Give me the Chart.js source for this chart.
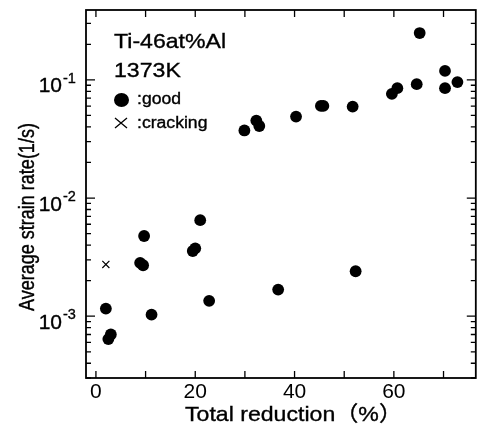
<!DOCTYPE html>
<html><head><meta charset="utf-8">
<script src="https://cdn.jsdelivr.net/npm/chart.js@4.4.0/dist/chart.umd.min.js"></script>
<style>html,body{margin:0;padding:0;background:#fff}#wrap{width:482px;height:428px;position:relative}</style>
</head><body><div id="wrap"><canvas id="c"></canvas></div>
<script>
// ---- data ----
const goodX = [2.0, 2.5, 3.0, 8.9, 9.5, 9.7, 11.2, 19.5, 20.0, 21.0, 22.8, 29.9, 32.3, 32.9, 36.7, 40.3, 45.3, 45.8, 51.7, 52.3, 59.6, 60.7, 64.6, 65.2, 70.3, 70.3, 72.8];
const goodY = [1.16e-3, 6.4e-4, 7.0e-4, 2.83e-3, 2.70e-3, 4.77e-3, 1.03e-3, 3.56e-3, 3.75e-3, 6.5e-3, 1.35e-3, 0.0373, 0.0452, 0.0407, 1.68e-3, 0.0489, 0.0602, 0.0602, 0.0594, 2.40e-3, 0.0761, 0.0851, 0.0920, 0.249, 0.119, 0.0851, 0.0957];
const crackX = [2.0];
const crackY = [2.74e-3];
const xTickLabels = [0, 20, 40, 60];
const xTickMarks = [0, 10, 20, 30, 40, 50, 60, 70];
const yDecades = [-3, -2, -1];
const yMinorMult = [2, 3, 4, 5, 6, 7, 8, 9];
const xTitle = 'Total reduction（%）';
const yTitle = 'Average strain rate(1/s)';
const noteLines = ['Ti-46at%Al', '1373K'];
const legendLabels = [':good', ':cracking'];

const X_MIN = -2, X_MAX = 76.5, Y_MIN = 3e-4, Y_MAX = 0.39;
const FONT = '"Liberation Sans", Arial, "Noto Sans CJK JP", sans-serif';

const goodData = goodX.map((v, i) => ({x: v, y: goodY[i]}));
const crackData = crackX.map((v, i) => ({x: v, y: crackY[i]}));

function txt(ctx, s, x, yb, size, sx, align) {
  ctx.save();
  ctx.translate(x, yb);
  ctx.scale(sx, 1);
  ctx.font = size + 'px ' + FONT;
  ctx.textAlign = align || 'left';
  ctx.textBaseline = 'alphabetic';
  ctx.lineWidth = 0.35;
  ctx.fillText(s, 0, 0);
  ctx.strokeText(s, 0, 0);
  ctx.restore();
}

const decor = {
  id: 'decor',
  afterDraw(chart) {
    const ctx = chart.ctx, a = chart.chartArea, xs = chart.scales.x, ys = chart.scales.y;
    ctx.save();
    ctx.strokeStyle = '#000'; ctx.fillStyle = '#000';
    // frame
    ctx.lineWidth = 1.8;
    ctx.strokeRect(a.left, a.top, a.right - a.left, a.bottom - a.top);
    // tick marks (inward)
    ctx.lineWidth = 1.3;
    ctx.beginPath();
    xTickMarks.forEach(v => {
      const px = xs.getPixelForValue(v);
      ctx.moveTo(px, a.bottom); ctx.lineTo(px, a.bottom - 7);
      ctx.moveTo(px, a.top); ctx.lineTo(px, a.top + 7);
    });
    const yMarks = [];
    for (let e = -4; e <= 0; e++) {
      yMarks.push({v: Math.pow(10, e), len: 9});
      yMinorMult.forEach(m => yMarks.push({v: m * Math.pow(10, e), len: 5}));
    }
    yMarks.forEach(t => {
      if (t.v < Y_MIN * 0.999 || t.v > Y_MAX) return;
      const py = ys.getPixelForValue(t.v);
      ctx.moveTo(a.left, py); ctx.lineTo(a.left + t.len, py);
      ctx.moveTo(a.right, py); ctx.lineTo(a.right - t.len, py);
    });
    ctx.stroke();
    // y tick labels 10^e
    yDecades.forEach(e => {
      const py = ys.getPixelForValue(Math.pow(10, e));
      txt(ctx, '10', 62, py + 12.5, 21, 1, 'right');
      txt(ctx, '-' + Math.abs(e), 63, py + 3, 14.5, 1, 'left');
    });
    // axis titles
    txt(ctx, xTitle, 185, 421, 21, 1.1, 'left');
    ctx.save();
    ctx.translate(28, 217);
    ctx.rotate(-Math.PI / 2);
    ctx.scale(1, 1.2);
    ctx.font = '18px ' + FONT;
    ctx.textAlign = 'center'; ctx.textBaseline = 'middle';
    ctx.lineWidth = 0.35;
    ctx.fillText(yTitle, 0, 0);
    ctx.strokeText(yTitle, 0, 0);
    ctx.restore();
    // annotation
    txt(ctx, noteLines[0], 114, 48, 21, 1.1, 'left');
    txt(ctx, noteLines[1], 114, 77, 21, 1.1, 'left');
    // legend
    ctx.beginPath();
    ctx.ellipse(121.5, 100, 7.5, 7, 0, 0, Math.PI * 2);
    ctx.fill();
    txt(ctx, legendLabels[0], 137, 104, 16, 1.1, 'left');
    ctx.lineWidth = 1.3;
    ctx.beginPath();
    ctx.moveTo(115, 118); ctx.lineTo(127, 128);
    ctx.moveTo(127, 118); ctx.lineTo(115, 128);
    ctx.stroke();
    txt(ctx, legendLabels[1], 137, 128, 16, 1.1, 'left');
    ctx.restore();
  }
};

new Chart(document.getElementById('c'), {
  type: 'scatter',
  data: {
    datasets: [
      {label: 'good', data: goodData, pointStyle: 'circle', pointRadius: 5.9, pointHoverRadius: 5.9,
       backgroundColor: '#000', borderColor: '#000', borderWidth: 0},
      {label: 'cracking', data: crackData, pointStyle: 'crossRot', pointRadius: 5, pointHoverRadius: 5,
       backgroundColor: '#000', borderColor: '#000', borderWidth: 1.2}
    ]
  },
  options: {
    responsive: true, maintainAspectRatio: false, animation: false,
    layout: {padding: {top: 10, right: 6, bottom: 0, left: 0}},
    plugins: {legend: {display: false}, tooltip: {enabled: false}},
    scales: {
      x: {
        type: 'linear', position: 'bottom', min: X_MIN, max: X_MAX,
        grid: {display: false, drawTicks: false}, border: {display: false},
        afterBuildTicks: s => { s.ticks = xTickLabels.map(v => ({value: v})); },
        ticks: {color: '#000', font: {family: FONT, size: 21}, padding: 2, maxRotation: 0, autoSkip: false},
        afterFit: s => { s.height = 50; }
      },
      y: {
        type: 'logarithmic', position: 'left', min: Y_MIN, max: Y_MAX,
        grid: {display: false, drawTicks: false}, border: {display: false},
        ticks: {display: false},
        afterFit: s => { s.width = 86; }
      }
    }
  },
  plugins: [decor]
});
</script>
</body></html>
